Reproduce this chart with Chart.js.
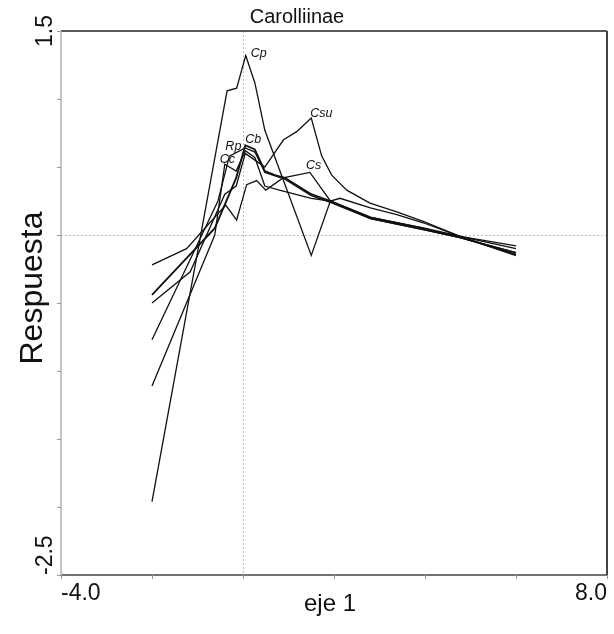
<!DOCTYPE html>
<html lang="es">
<head>
<meta charset="UTF-8" />
<title>Carolliinae</title>
<script src="https://cdn.jsdelivr.net/npm/chart.js"></script>
<style>
  html, body { margin: 0; padding: 0; background: #fff; }
  #wrap { width: 614px; height: 634px; position: relative; }
</style>
</head>
<body>
<div id="wrap"><canvas id="curves"></canvas></div>
<script>
  // response curves along eje 1
  const seriesNames = ['Cp', 'Csu', 'Cs', 'Cb', 'Rp', 'Cc'];

  const xCp  = [-2.0, -0.35, -0.14, 0.06, 0.26, 0.48, 1.50, 1.92, 2.13, 2.80, 3.38, 3.96, 4.77, 6.0];
  const yCp  = [-1.96, 1.06, 1.08, 1.32, 1.12, 0.77, -0.15, 0.25, 0.27, 0.20, 0.15, 0.09, -0.01, -0.10];

  const xCsu = [-2.0, -1.16, -0.40, -0.15, 0.05, 0.48, 0.89, 1.18, 1.50, 1.73, 1.95, 2.28, 2.79, 3.38, 3.96, 4.77, 6.0];
  const yCsu = [-0.50, -0.27, 0.30, 0.36, 0.60, 0.50, 0.70, 0.76, 0.86, 0.58, 0.44, 0.33, 0.235, 0.17, 0.10, -0.01, -0.08];

  const xCs  = [-2.0, -1.24, -0.38, -0.14, 0.08, 0.30, 0.50, 0.88, 1.47, 1.92, 2.80, 3.38, 3.96, 4.77, 6.0];
  const yCs  = [-0.22, -0.10, 0.22, 0.11, 0.37, 0.40, 0.33, 0.42, 0.46, 0.25, 0.13, 0.09, 0.05, -0.02, -0.13];

  const xCb  = [-2.0, -0.62, -0.15, 0.05, 0.26, 0.48, 0.70, 0.92, 1.50, 1.92, 2.80, 3.38, 3.96, 4.77, 6.0];
  const yCb  = [-0.44, 0.05, 0.42, 0.66, 0.63, 0.47, 0.44, 0.42, 0.30, 0.25, 0.13, 0.09, 0.05, -0.01, -0.15];

  const xRp  = [-2.0, -0.55, -0.30, 0.05, 0.26, 0.48, 0.92, 1.50, 1.92, 2.80, 3.38, 3.96, 4.77, 6.0];
  const yRp  = [-0.77, 0.25, 0.58, 0.64, 0.61, 0.46, 0.41, 0.29, 0.24, 0.12, 0.08, 0.04, -0.02, -0.14];

  const xCc  = [-2.0, -0.62, -0.40, -0.15, 0.05, 0.26, 0.48, 0.80, 1.50, 1.92, 2.80, 3.38, 3.96, 4.77, 6.0];
  const yCc  = [-1.11, 0.0, 0.52, 0.47, 0.62, 0.57, 0.36, 0.33, 0.27, 0.25, 0.12, 0.08, 0.04, -0.02, -0.13];

  // which point of each curve carries its name
  const labelIdx = [3, 8, 8, 3, 2, 2];

  // axis ticks and the labels actually printed
  const xTicks = [-4, -2, 0, 2, 4, 6, 8];
  const yTicks = [-2.5, -2, -1.5, -1, -0.5, 0, 0.5, 1, 1.5];
  const xLabelVals = [-4, 8];
  const xLabelText = ['-4.0', '8.0'];
  const yLabelVals = [-2.5, 1.5];
  const yLabelText = ['-2.5', '1.5'];

  const allX = [xCp, xCsu, xCs, xCb, xRp, xCc];
  const allY = [yCp, yCsu, yCs, yCb, yRp, yCc];

  const FONT = '"Liberation Sans", Arial, sans-serif';
  const labelOffsets = [[5, 2], [-1, -1], [-4, -3], [0, -2], [-4, -6], [-5, -1]];

  const datasets = seriesNames.map((name, k) => ({
    label: name,
    data: allX[k].map((x, i) => ({ x: x, y: allY[k][i] })),
    showLine: true,
    borderColor: '#111',
    borderWidth: name === 'Cb' ? 1.8 : 1.3,
    pointRadius: 0,
    tension: 0
  }));

  // zero lines, frame, ticks and all the text
  const decor = {
    id: 'decor',
    beforeDatasetsDraw(chart) {
      const { ctx, chartArea: a, scales: { x, y } } = chart;
      ctx.save();
      ctx.strokeStyle = '#bdbdbd';
      ctx.lineWidth = 1;
      ctx.setLineDash([2, 2]);
      const x0 = Math.round(x.getPixelForValue(0)) + 0.5;
      const y0 = Math.round(y.getPixelForValue(0)) + 0.5;
      ctx.beginPath();
      ctx.moveTo(x0, a.top); ctx.lineTo(x0, a.bottom);
      ctx.moveTo(a.left, y0); ctx.lineTo(a.right, y0);
      ctx.stroke();
      ctx.restore();
    },
    afterDraw(chart) {
      const { ctx, chartArea: a, scales: { x, y } } = chart;
      ctx.save();

      // frame
      ctx.lineWidth = 1.5;
      ctx.strokeStyle = '#222';
      ctx.beginPath(); ctx.moveTo(a.left, a.top); ctx.lineTo(a.right, a.top); ctx.stroke();
      ctx.strokeStyle = '#444';
      ctx.beginPath(); ctx.moveTo(a.left, a.bottom); ctx.lineTo(a.right, a.bottom); ctx.stroke();
      ctx.lineWidth = 2;
      ctx.beginPath(); ctx.moveTo(a.right, a.top); ctx.lineTo(a.right, a.bottom); ctx.stroke();
      ctx.lineWidth = 1.5;
      ctx.strokeStyle = '#b0b0b0';
      ctx.beginPath(); ctx.moveTo(a.left, a.top); ctx.lineTo(a.left, a.bottom); ctx.stroke();

      // tick marks
      ctx.lineWidth = 1;
      ctx.strokeStyle = '#999';
      ctx.beginPath();
      yTicks.forEach(v => {
        const py = Math.round(y.getPixelForValue(v)) + 0.5;
        ctx.moveTo(a.left - 4, py); ctx.lineTo(a.left, py);
      });
      xTicks.forEach(v => {
        const px = Math.round(x.getPixelForValue(v)) + 0.5;
        ctx.moveTo(px, a.bottom); ctx.lineTo(px, a.bottom + 4);
      });
      ctx.stroke();

      ctx.fillStyle = '#111';
      ctx.textBaseline = 'alphabetic';

      // x tick labels, kept inside the frame
      ctx.font = '23px ' + FONT;
      xLabelVals.forEach((v, i) => {
        ctx.textAlign = i === 0 ? 'left' : 'right';
        ctx.fillText(xLabelText[i], x.getPixelForValue(v), a.bottom + 25);
      });

      // y tick labels, rotated
      yLabelVals.forEach((v, i) => {
        ctx.save();
        ctx.translate(a.left - 9, y.getPixelForValue(v));
        ctx.rotate(-Math.PI / 2);
        ctx.textAlign = i === 0 ? 'left' : 'center';
        ctx.fillText(yLabelText[i], 0, 0);
        ctx.restore();
      });

      // axis titles
      ctx.font = '24px ' + FONT;
      ctx.textAlign = 'center';
      ctx.fillText('eje 1', 330, 611);

      ctx.save();
      ctx.font = '32px ' + FONT;
      ctx.translate(42, 288);
      ctx.rotate(-Math.PI / 2);
      ctx.fillText('Respuesta', 0, 0);
      ctx.restore();

      ctx.font = '20px ' + FONT;
      ctx.fillText('Carolliinae', 297, 23);

      // curve names
      ctx.font = 'italic 12.5px ' + FONT;
      ctx.textAlign = 'left';
      seriesNames.forEach((name, k) => {
        const j = labelIdx[k];
        const px = x.getPixelForValue(allX[k][j]);
        const py = y.getPixelForValue(allY[k][j]);
        ctx.fillText(name, px + labelOffsets[k][0], py + labelOffsets[k][1]);
      });

      ctx.restore();
    }
  };

  new Chart(document.getElementById('curves'), {
    type: 'scatter',
    data: { datasets: datasets },
    options: {
      responsive: true,
      maintainAspectRatio: false,
      animation: false,
      layout: { padding: { left: 61, top: 31, right: 7, bottom: 59 } },
      plugins: { legend: { display: false }, tooltip: { enabled: false } },
      scales: {
        x: {
          type: 'linear', min: -4, max: 8,
          ticks: { display: false },
          grid: { display: false },
          border: { display: false },
          afterFit: s => { s.height = 0; }
        },
        y: {
          type: 'linear', min: -2.5, max: 1.5,
          ticks: { display: false },
          grid: { display: false },
          border: { display: false },
          afterFit: s => { s.width = 0; }
        }
      }
    },
    plugins: [decor]
  });
</script>
</body>
</html>
